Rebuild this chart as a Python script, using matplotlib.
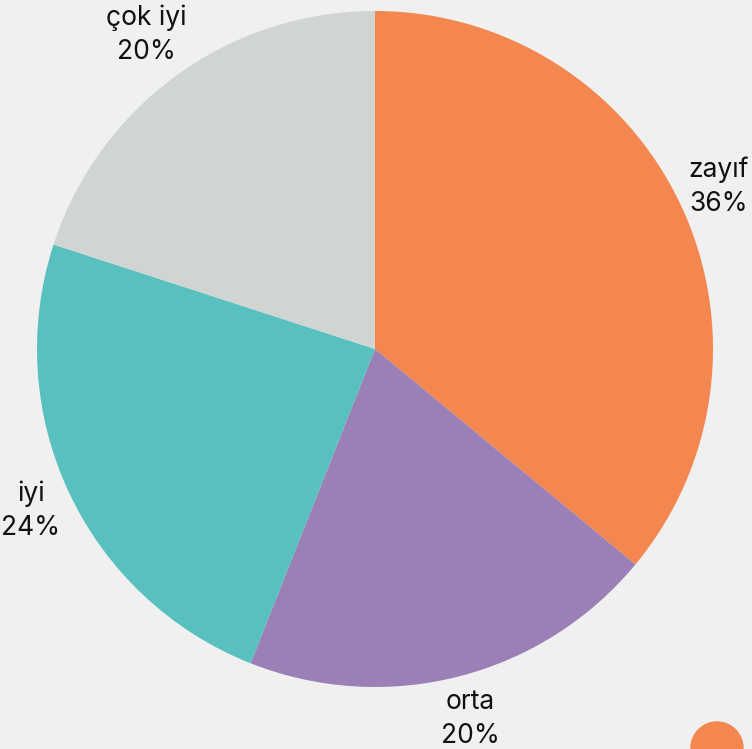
import matplotlib
matplotlib.use("Agg")
import matplotlib.pyplot as plt
import numpy as np
from matplotlib.patches import Circle

categories = ["zayıf", "orta", "iyi", "çok iyi"]
values = [36, 20, 24, 20]
colors = ["#F3874F", "#9B80B8", "#58C0BE", "#D0D5D3"]
label_dist = [1.125, 1.13, 1.125, 1.15]
bg = "#EFF0EF"

W, H = 752, 749
fig = plt.figure(figsize=(W / 100, H / 100), dpi=100, facecolor=bg)
cx, cy, r = 375, 749 - 349, 338
ax = fig.add_axes([(cx - r) / W, (cy - r) / H, 2 * r / W, 2 * r / H])
ax.set_facecolor(bg)

labels = [f"{c}\n{v}%" for c, v in zip(categories, values)]
wedges, texts = ax.pie(values, colors=colors, startangle=90, counterclock=False,
                       labels=labels, labeldistance=1.14, radius=1,
                       textprops=dict(fontsize=19, family=["Inter", "DejaVu Sans"],
                                      color="#111111", ha="center", va="center",
                                      linespacing=1.4))
for w, t, d in zip(wedges, texts, label_dist):
    ang = np.deg2rad((w.theta1 + w.theta2) / 2)
    t.set_position((d * np.cos(ang), d * np.sin(ang)))
    t.set_ha("center")
    t.set_va("center")

ax.set_xlim(-1, 1)
ax.set_ylim(-1, 1)
ax.set_aspect("equal")
ax.axis("off")

# partially visible legend marker at bottom right
fig.add_artist(Circle((717, 749 - 748), 26, transform=None, color=colors[0]))

fig.savefig("out.png", dpi=100, facecolor=bg)
